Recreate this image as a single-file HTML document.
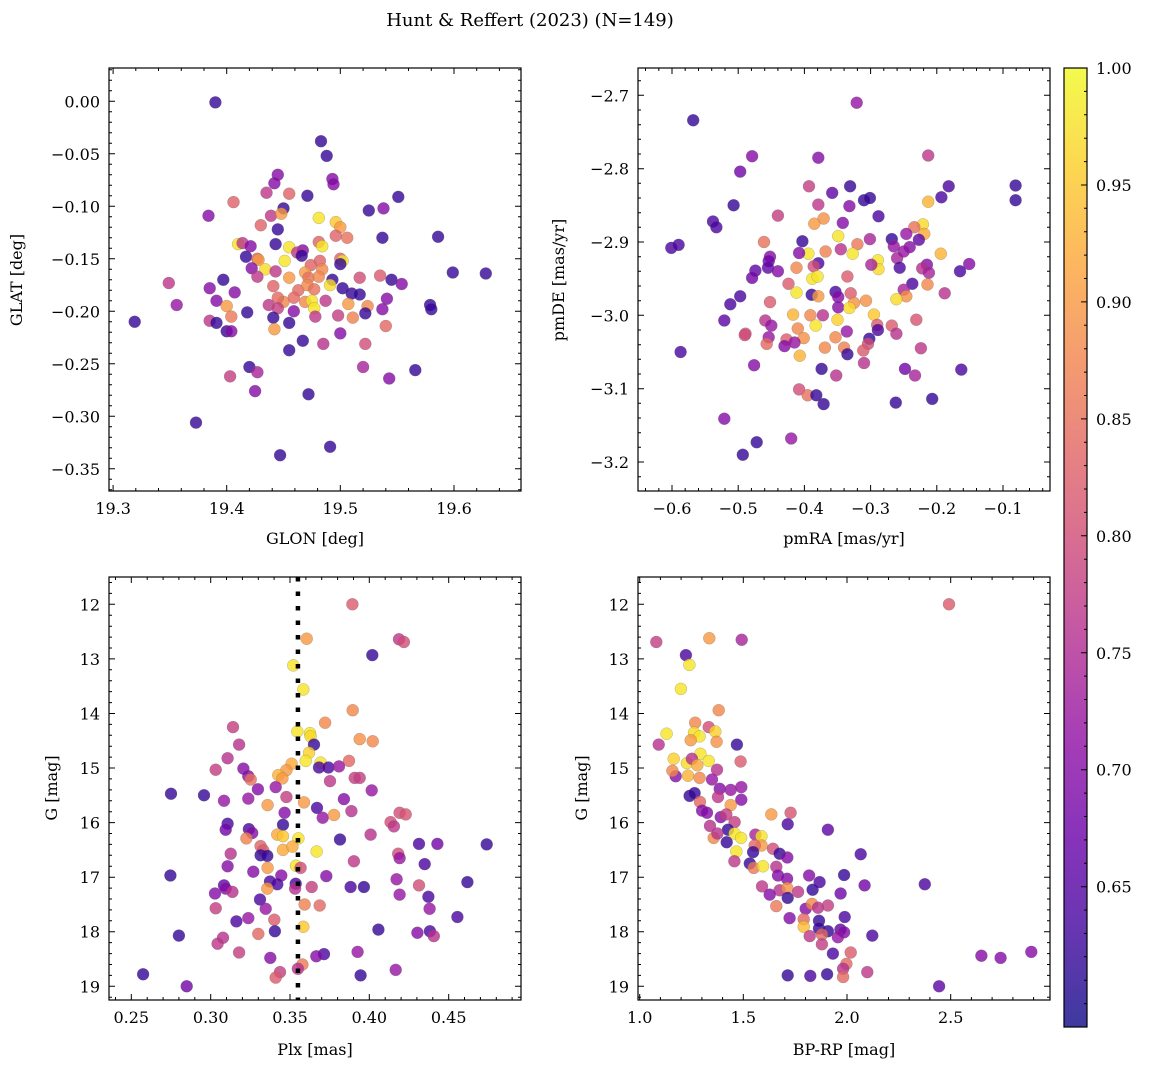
<!DOCTYPE html>
<html><head><meta charset="utf-8"><style>
html,body{margin:0;padding:0;background:#fff;}
svg{display:block;font-family:"DejaVu Serif","Liberation Serif",serif;}
</style></head><body>
<svg id="fig" width="1149" height="1067" viewBox="0 0 1149 1067" xmlns="http://www.w3.org/2000/svg">
<text x="530" y="26" text-anchor="middle" font-size="18">Hunt &amp; Reffert (2023) (N=149)</text>
<text x="315" y="544" text-anchor="middle" font-size="16">GLON [deg]</text>
<text x="844" y="544" text-anchor="middle" font-size="16">pmRA [mas/yr]</text>
<text x="315" y="1055" text-anchor="middle" font-size="16">Plx [mas]</text>
<text x="844" y="1055" text-anchor="middle" font-size="16">BP-RP [mag]</text>
<text transform="translate(22,280) rotate(-90)" text-anchor="middle" font-size="16">GLAT [deg]</text>
<text transform="translate(564,280) rotate(-90)" text-anchor="middle" font-size="16">pmDE [mas/yr]</text>
<text transform="translate(57,788) rotate(-90)" text-anchor="middle" font-size="16">G [mag]</text>
<text transform="translate(587,788) rotate(-90)" text-anchor="middle" font-size="16">G [mag]</text>
</svg>
<script>
// ---- data ----
const glon=[19.390,19.483,19.488,19.445,19.442,19.493,19.494,19.435,19.455,19.471,19.406,19.551,19.384,19.450,19.525,19.538,19.439,19.448,19.481,19.496,19.500,19.430,19.445,19.496,19.506,19.537,19.586,19.410,19.414,19.421,19.443,19.455,19.481,19.484,19.467,19.462,19.417,19.427,19.428,19.451,19.466,19.482,19.500,19.502,19.500,19.422,19.434,19.443,19.474,19.469,19.484,19.427,19.455,19.472,19.481,19.493,19.517,19.535,19.545,19.554,19.599,19.628,19.349,19.397,19.385,19.407,19.441,19.491,19.502,19.463,19.471,19.477,19.510,19.517,19.541,19.356,19.391,19.400,19.450,19.445,19.469,19.475,19.477,19.487,19.459,19.437,19.507,19.524,19.537,19.579,19.580,19.445,19.459,19.418,19.404,19.441,19.478,19.498,19.511,19.522,19.385,19.319,19.391,19.455,19.442,19.400,19.404,19.540,19.500,19.467,19.485,19.522,19.455,19.420,19.427,19.403,19.520,19.543,19.566,19.425,19.472,19.373,19.491,19.447];
const glat=[-0.001,-0.038,-0.052,-0.070,-0.078,-0.074,-0.079,-0.087,-0.088,-0.090,-0.096,-0.091,-0.109,-0.102,-0.104,-0.102,-0.109,-0.107,-0.111,-0.115,-0.120,-0.118,-0.122,-0.128,-0.130,-0.130,-0.129,-0.136,-0.135,-0.138,-0.136,-0.139,-0.134,-0.138,-0.142,-0.144,-0.148,-0.150,-0.151,-0.152,-0.147,-0.152,-0.150,-0.152,-0.155,-0.159,-0.160,-0.162,-0.156,-0.163,-0.160,-0.167,-0.168,-0.168,-0.167,-0.170,-0.168,-0.166,-0.170,-0.174,-0.163,-0.164,-0.173,-0.170,-0.178,-0.182,-0.176,-0.175,-0.178,-0.180,-0.175,-0.179,-0.183,-0.184,-0.188,-0.194,-0.190,-0.195,-0.191,-0.187,-0.191,-0.190,-0.197,-0.190,-0.187,-0.194,-0.193,-0.195,-0.198,-0.194,-0.198,-0.197,-0.200,-0.201,-0.205,-0.206,-0.205,-0.204,-0.206,-0.202,-0.209,-0.210,-0.211,-0.211,-0.217,-0.219,-0.219,-0.214,-0.221,-0.228,-0.231,-0.231,-0.237,-0.253,-0.258,-0.262,-0.253,-0.264,-0.256,-0.276,-0.279,-0.306,-0.329,-0.337];
const prob1=[0.62,0.62,0.62,0.70,0.70,0.70,0.70,0.77,0.83,0.62,0.83,0.62,0.70,0.62,0.62,0.70,0.77,0.90,0.98,0.95,0.90,0.83,0.62,0.83,0.85,0.62,0.62,0.98,0.77,0.70,0.62,0.98,0.83,0.98,0.70,0.77,0.62,0.83,0.90,0.98,0.62,0.83,0.83,0.98,0.62,0.70,0.97,0.77,0.83,0.90,0.88,0.77,0.90,0.85,0.88,0.62,0.80,0.82,0.62,0.70,0.62,0.62,0.77,0.62,0.70,0.70,0.83,0.97,0.62,0.84,0.88,0.85,0.62,0.62,0.70,0.72,0.70,0.90,0.88,0.84,0.88,0.98,0.98,0.77,0.84,0.77,0.90,0.88,0.70,0.62,0.62,0.78,0.70,0.62,0.86,0.62,0.77,0.78,0.87,0.62,0.77,0.62,0.62,0.62,0.90,0.62,0.70,0.84,0.70,0.62,0.76,0.80,0.62,0.62,0.74,0.78,0.74,0.70,0.62,0.70,0.62,0.62,0.62,0.62];

const pmra=[-0.321,-0.568,-0.479,-0.379,-0.213,-0.497,-0.393,-0.331,-0.358,-0.182,-0.081,-0.310,-0.301,-0.213,-0.193,-0.081,-0.507,-0.379,-0.332,-0.440,-0.371,-0.385,-0.288,-0.342,-0.538,-0.533,-0.221,-0.234,-0.219,-0.246,-0.349,-0.601,-0.590,-0.461,-0.403,-0.301,-0.268,-0.265,-0.241,-0.227,-0.320,-0.394,-0.345,-0.368,-0.327,-0.194,-0.408,-0.452,-0.454,-0.260,-0.250,-0.289,-0.288,-0.299,-0.379,-0.386,-0.412,-0.455,-0.440,-0.256,-0.215,-0.222,-0.212,-0.151,-0.165,-0.474,-0.479,-0.388,-0.380,-0.335,-0.424,-0.237,-0.214,-0.188,-0.250,-0.412,-0.389,-0.379,-0.353,-0.349,-0.330,-0.307,-0.246,-0.261,-0.497,-0.512,-0.452,-0.325,-0.349,-0.332,-0.417,-0.391,-0.372,-0.295,-0.350,-0.521,-0.459,-0.450,-0.383,-0.410,-0.290,-0.268,-0.231,-0.289,-0.261,-0.489,-0.490,-0.336,-0.401,-0.302,-0.454,-0.457,-0.427,-0.430,-0.415,-0.369,-0.353,-0.340,-0.304,-0.311,-0.224,-0.587,-0.407,-0.335,-0.310,-0.476,-0.374,-0.352,-0.248,-0.233,-0.163,-0.408,-0.395,-0.382,-0.371,-0.262,-0.207,-0.521,-0.420,-0.472,-0.493];
const pmde=[-2.710,-2.734,-2.783,-2.785,-2.782,-2.804,-2.824,-2.824,-2.833,-2.824,-2.823,-2.843,-2.840,-2.845,-2.839,-2.843,-2.850,-2.849,-2.851,-2.864,-2.868,-2.875,-2.865,-2.874,-2.872,-2.880,-2.876,-2.880,-2.889,-2.889,-2.892,-2.908,-2.904,-2.900,-2.899,-2.896,-2.896,-2.906,-2.907,-2.897,-2.903,-2.916,-2.910,-2.913,-2.916,-2.916,-2.915,-2.920,-2.926,-2.922,-2.913,-2.925,-2.937,-2.931,-2.929,-2.933,-2.935,-2.935,-2.940,-2.935,-2.931,-2.936,-2.942,-2.930,-2.940,-2.939,-2.949,-2.950,-2.947,-2.947,-2.957,-2.957,-2.958,-2.970,-2.965,-2.969,-2.972,-2.974,-2.968,-2.975,-2.970,-2.980,-2.974,-2.978,-2.974,-2.985,-2.982,-2.983,-2.989,-2.990,-2.999,-3.000,-3.000,-2.999,-3.006,-3.007,-3.007,-3.014,-3.014,-3.018,-3.013,-3.014,-3.006,-3.020,-3.025,-3.025,-3.027,-3.022,-3.031,-3.032,-3.030,-3.039,-3.033,-3.042,-3.037,-3.044,-3.030,-3.044,-3.039,-3.048,-3.045,-3.050,-3.055,-3.053,-3.065,-3.068,-3.073,-3.082,-3.073,-3.082,-3.074,-3.101,-3.109,-3.109,-3.121,-3.119,-3.114,-3.141,-3.168,-3.173,-3.190];
const prob2=[0.72,0.62,0.70,0.70,0.77,0.68,0.78,0.62,0.66,0.64,0.62,0.62,0.62,0.93,0.64,0.62,0.62,0.77,0.70,0.78,0.89,0.90,0.64,0.70,0.64,0.64,0.97,0.85,0.92,0.72,0.98,0.64,0.64,0.85,0.62,0.74,0.62,0.72,0.70,0.66,0.86,0.98,0.76,0.87,0.98,0.93,0.70,0.70,0.68,0.74,0.72,0.98,0.97,0.74,0.64,0.80,0.88,0.66,0.70,0.64,0.70,0.76,0.74,0.70,0.64,0.66,0.68,0.98,0.98,0.82,0.82,0.64,0.88,0.76,0.74,0.98,0.62,0.90,0.64,0.70,0.82,0.89,0.89,0.97,0.64,0.64,0.82,0.89,0.70,0.97,0.93,0.88,0.76,0.95,0.96,0.66,0.76,0.72,0.98,0.88,0.82,0.82,0.81,0.64,0.76,0.80,0.80,0.72,0.89,0.62,0.72,0.84,0.82,0.70,0.72,0.88,0.88,0.87,0.80,0.82,0.77,0.64,0.93,0.62,0.76,0.70,0.62,0.76,0.68,0.74,0.64,0.80,0.85,0.62,0.62,0.62,0.62,0.70,0.72,0.62,0.62];

const plx=[0.3893,0.3605,0.4187,0.4218,0.4019,0.3521,0.3584,0.3895,0.3721,0.3141,0.3546,0.3626,0.3630,0.3939,0.4021,0.3651,0.3179,0.3620,0.3599,0.3693,0.3510,0.3872,0.3107,0.3032,0.3206,0.3683,0.3742,0.3809,0.3477,0.3426,0.3452,0.3237,0.3252,0.3908,0.3939,0.3752,0.3298,0.3410,0.4015,0.2750,0.2958,0.3084,0.3237,0.3477,0.3359,0.3588,0.3670,0.3840,0.3887,0.3466,0.3706,0.3777,0.4191,0.4229,0.3107,0.3095,0.4134,0.4155,0.3456,0.3241,0.3262,0.3420,0.3456,0.3225,0.3553,0.3815,0.4008,0.4313,0.4429,0.4740,0.3315,0.3332,0.3456,0.3515,0.3668,0.3126,0.3315,0.3357,0.4182,0.4191,0.3107,0.3903,0.4349,0.3538,0.3567,0.3359,0.3269,0.3445,0.2746,0.3729,0.4172,0.4618,0.3374,0.3420,0.4313,0.3084,0.3095,0.3137,0.3536,0.3532,0.3357,0.3637,0.3882,0.3966,0.4191,0.3027,0.3311,0.4372,0.3592,0.3687,0.3347,0.4380,0.3032,0.3237,0.3162,0.3401,0.4555,0.3584,0.3405,0.4057,0.2800,0.3300,0.4303,0.4382,0.4406,0.3078,0.3044,0.3179,0.3376,0.3714,0.3666,0.3926,0.3578,0.3550,0.3437,0.3410,0.4166,0.3945,0.2574,0.2849];
const gmag3=[12.00,12.63,12.64,12.69,12.93,13.12,13.56,13.94,14.17,14.25,14.33,14.36,14.42,14.47,14.51,14.57,14.57,14.72,14.87,14.90,14.92,14.87,14.82,15.03,15.01,14.99,14.99,14.97,15.04,15.13,15.19,15.15,15.21,15.18,15.18,15.24,15.39,15.35,15.41,15.47,15.50,15.60,15.56,15.53,15.68,15.63,15.73,15.57,15.79,15.82,15.91,15.86,15.82,15.85,16.02,16.13,15.99,16.07,16.04,16.12,16.19,16.22,16.25,16.29,16.29,16.31,16.22,16.39,16.39,16.40,16.43,16.51,16.50,16.44,16.53,16.57,16.60,16.61,16.57,16.65,16.80,16.71,16.76,16.79,16.83,16.83,16.90,16.97,16.97,16.98,17.04,17.09,17.08,17.13,17.15,17.15,17.21,17.27,17.12,17.21,17.21,17.18,17.18,17.18,17.32,17.30,17.41,17.36,17.50,17.52,17.58,17.58,17.57,17.75,17.81,17.78,17.73,17.91,17.99,17.96,18.07,18.04,18.02,17.99,18.08,18.11,18.22,18.38,18.48,18.41,18.45,18.37,18.60,18.68,18.74,18.84,18.70,18.80,18.78,19.00];
const prob3=[0.82,0.90,0.77,0.80,0.62,0.98,0.98,0.88,0.88,0.78,0.98,0.98,0.97,0.89,0.88,0.62,0.76,0.96,0.98,0.98,0.92,0.84,0.76,0.78,0.70,0.64,0.64,0.72,0.90,0.93,0.90,0.70,0.85,0.78,0.78,0.77,0.70,0.72,0.72,0.62,0.62,0.72,0.72,0.78,0.90,0.90,0.64,0.70,0.76,0.70,0.72,0.90,0.80,0.81,0.64,0.68,0.80,0.77,0.62,0.64,0.70,0.92,0.95,0.87,0.98,0.62,0.76,0.64,0.68,0.62,0.83,0.82,0.92,0.92,0.98,0.76,0.62,0.62,0.80,0.72,0.70,0.77,0.64,0.98,0.80,0.90,0.70,0.70,0.62,0.70,0.72,0.62,0.64,0.64,0.80,0.66,0.70,0.76,0.64,0.76,0.90,0.78,0.64,0.62,0.72,0.70,0.64,0.64,0.87,0.84,0.72,0.72,0.78,0.72,0.64,0.82,0.64,0.95,0.62,0.62,0.62,0.84,0.70,0.64,0.76,0.76,0.77,0.78,0.70,0.64,0.70,0.72,0.86,0.76,0.78,0.82,0.72,0.62,0.62,0.68];

const bprp=[2.492,1.080,1.336,1.492,1.223,1.240,1.199,1.381,1.268,1.333,1.130,1.262,1.365,1.289,1.246,1.371,1.092,1.469,1.293,1.164,1.228,1.333,1.487,1.252,1.278,1.174,1.158,1.233,1.289,1.373,1.349,1.386,1.439,1.490,1.241,1.265,1.378,1.490,1.291,1.439,1.301,1.325,1.635,1.728,1.391,1.418,1.458,1.714,1.908,1.339,1.426,1.357,1.458,1.489,1.420,1.375,1.558,1.587,1.588,1.555,1.466,1.457,1.547,1.643,1.675,1.712,2.066,1.531,1.550,1.595,1.659,1.667,1.711,1.868,1.817,1.986,2.085,2.375,1.590,1.675,1.712,1.764,1.834,1.627,1.714,1.969,1.659,1.801,1.831,1.860,1.908,1.723,1.865,1.791,1.989,1.791,1.865,1.908,1.968,1.986,1.820,1.879,1.956,2.122,1.879,1.932,2.018,1.997,1.981,1.981,2.098,1.714,1.823,1.904,2.648,2.741,2.889,2.444];
const gmag4=[12.00,12.69,12.62,12.65,12.93,13.11,13.55,13.94,14.17,14.25,14.37,14.35,14.33,14.42,14.49,14.52,14.57,14.57,14.74,14.83,14.91,14.87,14.88,14.83,14.95,15.15,15.05,15.14,15.18,15.03,15.21,15.38,15.40,15.35,15.51,15.46,15.53,15.58,15.62,15.68,15.78,15.82,15.85,15.82,15.90,15.85,15.99,16.03,16.13,16.06,16.13,16.28,16.20,16.28,16.36,16.20,16.22,16.25,16.42,16.42,16.53,16.71,16.54,16.48,16.57,16.64,16.58,16.75,16.83,16.80,16.81,16.97,17.03,17.09,16.97,16.96,17.15,17.13,17.17,17.24,17.20,17.27,17.23,17.32,17.38,17.30,17.53,17.58,17.49,17.56,17.52,17.75,17.80,17.77,17.73,17.91,17.94,17.99,17.96,18.01,18.08,18.05,18.10,18.07,18.23,18.40,18.38,18.59,18.68,18.83,18.74,18.80,18.81,18.78,18.44,18.48,18.37,19.00];
const prob4=[0.82,0.78,0.90,0.74,0.64,0.98,0.98,0.88,0.88,0.80,0.98,0.97,0.96,0.98,0.90,0.89,0.76,0.62,0.98,0.96,0.97,0.98,0.82,0.76,0.92,0.70,0.88,0.93,0.88,0.76,0.72,0.70,0.72,0.72,0.62,0.62,0.77,0.70,0.84,0.90,0.70,0.70,0.90,0.81,0.70,0.78,0.78,0.64,0.66,0.76,0.62,0.88,0.98,0.98,0.62,0.76,0.74,0.98,0.90,0.84,0.98,0.77,0.62,0.80,0.62,0.70,0.64,0.62,0.86,0.98,0.76,0.70,0.70,0.64,0.70,0.62,0.68,0.64,0.77,0.76,0.89,0.77,0.62,0.70,0.62,0.68,0.86,0.70,0.88,0.76,0.78,0.70,0.62,0.84,0.64,0.94,0.62,0.62,0.66,0.70,0.77,0.84,0.72,0.64,0.78,0.64,0.82,0.84,0.76,0.84,0.77,0.62,0.64,0.62,0.70,0.70,0.70,0.66];

const cbTicks=[0.65,0.70,0.75,0.80,0.85,0.90,0.95,1.00];
const plxRef=[0.355];

// ---- helpers ----
const NS='http://www.w3.org/2000/svg';
const svg=document.getElementById('fig');
const VMIN=0.590, VMAX=1.0;
const plasma=[[13,8,135],[65,4,157],[106,0,168],[143,13,164],[177,42,144],[204,71,120],[225,100,98],[242,132,75],[252,166,54],[252,206,37],[240,249,33]];
function cmap(v){let t=(v-VMIN)/(VMAX-VMIN);t=Math.max(0,Math.min(1,t))*10;const i=Math.min(9,Math.floor(t)),f=t-i;const a=plasma[i],b=plasma[i+1];return 'rgb('+a.map((c,k)=>Math.round(c+(b[k]-c)*f)).join(',')+')';}
function mk(tag,attrs,parent){const e=document.createElementNS(NS,tag);for(const k in attrs)e.setAttribute(k,attrs[k]);(parent||svg).appendChild(e);return e;}
function fmt(v,d){const s=Math.abs(v).toFixed(d);return (v<-1e-9?'\u2212':'')+s;}

function panel(p){
  const g=mk('g',{});
  
  
  const sx=v=>p.x0+(v-p.xd[0])/(p.xd[1]-p.xd[0])*(p.x1-p.x0);
  const sy=v=>p.y0+(v-p.yd[0])/(p.yd[1]-p.yd[0])*(p.y1-p.y0);
  for(let i=0;i<p.xs.length;i++){
    const c=mk('circle',{cx:sx(p.xs[i]).toFixed(1),cy:sy(p.ys[i]).toFixed(1),r:6,fill:cmap(p.cs[i]),'fill-opacity':0.8,stroke:'#666','stroke-opacity':0.45,'stroke-width':0.5},g);
    
    
  }
  if(p.vline){
    for(const v of p.vline){
      const l=mk('line',{x1:sx(v),x2:sx(v),y1:p.y0,y2:p.y1,stroke:'#000','stroke-width':4.5,'stroke-dasharray':'4.5 10'},g);
      
      
    }
  }
  const fr=mk('rect',{x:p.x0,y:p.y0,width:p.x1-p.x0,height:p.y1-p.y0,fill:'none',stroke:'#000','stroke-width':1.2},g);
  
  
  const tk=mk('path',{stroke:'#000','stroke-width':1,fill:'none'},g);
  
  
  let d='';
  const xmin=Math.min(...p.xd),xmax=Math.max(...p.xd),ymin=Math.min(...p.yd),ymax=Math.max(...p.yd);
  for(let v=Math.ceil(xmin/p.xminor)*p.xminor;v<=xmax;v+=p.xminor){const x=sx(v).toFixed(1);d+=`M${x} ${p.y1}v-3M${x} ${p.y0}v3`;}
  for(let v=Math.ceil(ymin/p.yminor)*p.yminor;v<=ymax;v+=p.yminor){const y=sy(v).toFixed(1);d+=`M${p.x0} ${y}h3M${p.x1} ${y}h-3`;}
  for(const v of p.xt){const x=sx(v).toFixed(1);d+=`M${x} ${p.y1}v-6M${x} ${p.y0}v6`;
    const t=mk('text',{x:x,y:p.y1+23,'text-anchor':'middle','font-size':16},g);t.textContent=fmt(v,p.xdec);
    
    }
  for(const v of p.yt){const y=sy(v).toFixed(1);d+=`M${p.x0} ${y}h6M${p.x1} ${y}h-6`;
    const t=mk('text',{x:p.x0-9,y:+y+6,'text-anchor':'end','font-size':16},g);t.textContent=fmt(v,p.ydec);
    
    }
  tk.setAttribute('d',d);
}

panel({name:'panel-glon-glat',x0:109,x1:521,y0:68,y1:491,xd:[19.3-12/3340,19.3+(1236-37)/3340],yd:[100/3150,-(1269-100)/3150],
  xs:glon,ys:glat,cs:prob1,xt:[19.3,19.4,19.5,19.6],yt:[0,-0.05,-0.1,-0.15,-0.2,-0.25,-0.3,-0.35],xdec:1,ydec:2,xminor:0.02,yminor:0.01});
panel({name:'panel-pmra-pmde',x0:638,x1:1050,y0:68,y1:491,xd:[-0.6-102/1986,-0.6+(1236-102)/1986],yd:[-2.7+82/2200,-2.7-(1269-82)/2200],
  xs:pmra,ys:pmde,cs:prob2,xt:[-0.6,-0.5,-0.4,-0.3,-0.2,-0.1],yt:[-2.7,-2.8,-2.9,-3.0,-3.1,-3.2],xdec:1,ydec:1,xminor:0.02,yminor:0.02});
panel({name:'panel-plx-g',x0:109,x1:521,y0:577,y1:1000,xd:[0.25-67/4760,0.25+(1236-67)/4760],yd:[12-82/163.7,12+(1269-82)/163.7],
  xs:plx,ys:gmag3,cs:prob3,xt:[0.25,0.30,0.35,0.40,0.45],yt:[12,13,14,15,16,17,18,19],xdec:2,ydec:0,xminor:0.01,yminor:0.2,vline:plxRef});
panel({name:'panel-bprp-g',x0:638,x1:1050,y0:577,y1:1000,xd:[1.0-5/622,1.0+(1236-5)/622],yd:[12-82/163.7,12+(1269-82)/163.7],
  xs:bprp,ys:gmag4,cs:prob4,xt:[1.0,1.5,2.0,2.5],yt:[12,13,14,15,16,17,18,19],xdec:1,ydec:0,xminor:0.1,yminor:0.2});

(function(){
  const x0=1064,x1=1087,y0=68,y1=1027;
  const g=mk('g',{});
  
  
  const defs=mk('defs',{},g);
  const lg=mk('linearGradient',{id:'cbg',x1:0,y1:1,x2:0,y2:0},defs);
  for(let i=0;i<=20;i++){mk('stop',{offset:i/20,'stop-color':cmap(VMIN+(VMAX-VMIN)*i/20),'stop-opacity':0.8},lg);}
  const r=mk('rect',{x:x0,y:y0,width:x1-x0,height:y1-y0,fill:'url(#cbg)',stroke:'#000','stroke-width':1.2},g);
  
  
  const sy=v=>y1-(v-VMIN)/(VMAX-VMIN)*(y1-y0);
  let d='';
  for(let v=0.60;v<0.9999;v+=0.01){d+=`M${x1} ${sy(v).toFixed(1)}h-3`;}
  for(const v of cbTicks){const y=sy(v);d+=`M${x1} ${y.toFixed(1)}h-6`;
    const t=mk('text',{x:x1+9,y:y+6,'font-size':16},g);t.textContent=v.toFixed(2);
    
    }
  const p=mk('path',{d:d,stroke:'#000','stroke-width':1},g);
  
  
})();
</script>
</body></html>
